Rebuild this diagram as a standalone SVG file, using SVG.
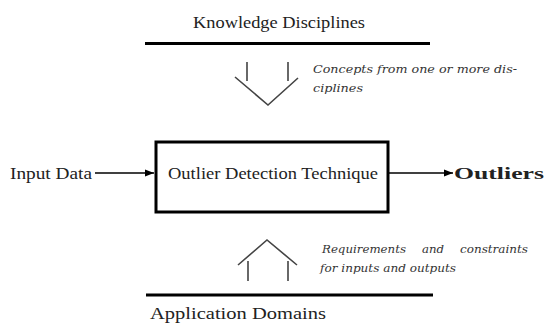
<svg xmlns="http://www.w3.org/2000/svg" width="550" height="324" viewBox="0 0 550 324">
<style>
.t{font-family:"Liberation Serif","DejaVu Serif",serif;fill:#222;font-size:17px}
.i{font-family:"DejaVu Serif","Liberation Serif",serif;fill:#333;font-size:11.5px;font-style:italic}
.ln{stroke:#000;fill:none}
.thin{stroke:#444;stroke-width:1.6;fill:none}
</style>
<defs>
<marker id="ah" viewBox="0 0 10 10" refX="10" refY="5" markerWidth="9" markerHeight="9" markerUnits="userSpaceOnUse" orient="auto">
<path d="M0,1 L10,5 L0,9 Z" fill="#000"/>
</marker>
</defs>
<rect width="550" height="324" fill="#fff"/>
<g id="knowledge">
<text class="t" x="193" y="28" textLength="172" lengthAdjust="spacingAndGlyphs">Knowledge Disciplines</text>
<line class="ln" x1="145" y1="43.5" x2="430" y2="43.5" stroke-width="3"/>
</g>
<g id="concepts">
<text class="i" x="313" y="73" textLength="204" lengthAdjust="spacingAndGlyphs">Concepts from one or more dis-</text>
<text class="i" x="313" y="92" textLength="50" lengthAdjust="spacingAndGlyphs">ciplines</text>
</g>
<g id="technique">
<rect x="156" y="142" width="232" height="70" fill="none" stroke="#000" stroke-width="3"/>
<text class="t" x="168" y="179" textLength="210" lengthAdjust="spacingAndGlyphs">Outlier Detection Technique</text>
</g>
<g id="input">
<text class="t" x="10" y="179" textLength="82" lengthAdjust="spacingAndGlyphs">Input Data</text>
</g>
<g id="outliers">
<text class="t" x="454" y="179" font-weight="bold" textLength="90" lengthAdjust="spacingAndGlyphs">Outliers</text>
</g>
<g id="requirements">
<text class="i" y="253"><tspan x="322" textLength="84" lengthAdjust="spacingAndGlyphs">Requirements</tspan><tspan x="422" textLength="22" lengthAdjust="spacingAndGlyphs">and</tspan><tspan x="460" textLength="68" lengthAdjust="spacingAndGlyphs">constraints</tspan></text>
<text class="i" x="320" y="272" textLength="136" lengthAdjust="spacingAndGlyphs">for inputs and outputs</text>
</g>
<g id="domains">
<line class="ln" x1="146" y1="295" x2="433" y2="295" stroke-width="3"/>
<text class="t" x="150" y="319" textLength="176" lengthAdjust="spacingAndGlyphs">Application Domains</text>
</g>
<g id="connectors">
<line class="ln" x1="95" y1="173" x2="154" y2="173" stroke-width="1.3" marker-end="url(#ah)"/>
<line class="ln" x1="389" y1="173" x2="453" y2="173" stroke-width="1.3" marker-end="url(#ah)"/>
<path class="thin" d="M247,62 V81 M288,62 V81 M235,77 L268,105 L298,78"/>
<path class="thin" d="M238,265 L267,240 L297,265 M248,261 V281 M288,261 V281"/>
</g>
</svg>
